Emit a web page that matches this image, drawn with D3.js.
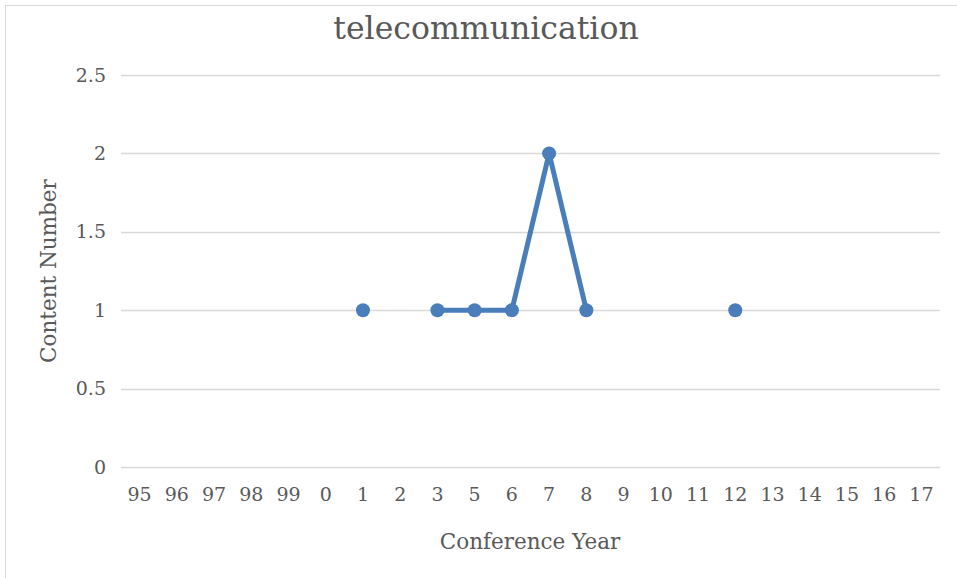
<!DOCTYPE html>
<html lang="en">
<head>
<meta charset="UTF-8">
<title>telecommunication</title>
<script src="https://cdn.jsdelivr.net/npm/d3@7"></script>
<style>
    body { margin: 0; background: #fff; }
    text { font-family: "DejaVu Serif", serif; fill: #595959; }
</style>
</head>
<body>
<div id="fig"></div>
<script>
// conference years as printed on the axis (no 4)
const years = ["95", "96", "97", "98", "99", "0", "1", "2", "3", "5", "6", "7", "8", "9", "10", "11", "12", "13", "14", "15", "16", "17"]
// content number per year, null where nothing is plotted
const counts = [null, null, null, null, null, null, 1, null, 1, 1, 1, 2, 1, null, null, null, 1, null, null, null, null, null]
const yTicks = [0, 0.5, 1, 1.5, 2, 2.5]

const W = 957, H = 578
const plot = {left: 121, right: 940, top: 75, bottom: 467}

const svg = d3.select("#fig").append("svg")
    .attr("width", W).attr("height", H)

// chart frame (right / bottom edges fall outside the picture)
svg.append("rect")
    .attr("x", 5.5).attr("y", 5.5)
    .attr("width", W).attr("height", H)
    .attr("fill", "none").attr("stroke", "#d9d9d9")

const x = d3.scaleBand().domain(years).range([plot.left, plot.right])
const y = d3.scaleLinear().domain([0, 2.5]).range([plot.bottom, plot.top])

// gridlines
svg.append("g").selectAll("line")
    .data(yTicks)
    .join("line")
    .attr("x1", plot.left).attr("x2", plot.right)
    .attr("y1", d => Math.round(y(d)) + 0.5).attr("y2", d => Math.round(y(d)) + 0.5)
    .attr("stroke", "#d9d9d9").attr("stroke-width", 1.5)

// y axis labels
const yAxis = svg.append("g")
    .attr("transform", `translate(${plot.left},0)`)
    .call(d3.axisLeft(y).tickValues(yTicks).tickSize(0).tickPadding(15).tickFormat(d3.format("")))
yAxis.select(".domain").remove()
yAxis.selectAll("text").style("font-size", "19px").attr("fill", "#595959")

// x axis labels
const xAxis = svg.append("g")
    .attr("transform", `translate(0,${plot.bottom})`)
    .call(d3.axisBottom(x).tickSize(0).tickPadding(21))
xAxis.select(".domain").remove()
xAxis.selectAll("text").style("font-size", "19px").attr("fill", "#595959")

const pts = years.map((d, i) => ({year: d, value: counts[i]}))

const line = d3.line()
    .defined(d => d.value !== null)
    .x(d => x(d.year) + x.bandwidth() / 2)
    .y(d => y(d.value))

svg.append("path")
    .datum(pts)
    .attr("d", line)
    .attr("fill", "none")
    .attr("stroke", "#4a7ebb")
    .attr("stroke-width", 5)
    .attr("stroke-linejoin", "round")

svg.append("g").selectAll("circle")
    .data(pts.filter(d => d.value !== null))
    .join("circle")
    .attr("cx", d => x(d.year) + x.bandwidth() / 2)
    .attr("cy", d => y(d.value))
    .attr("r", 7)
    .attr("fill", "#4a7ebb")

// titles
svg.append("text")
    .attr("x", 486).attr("y", 39)
    .attr("text-anchor", "middle")
    .style("font-size", "31.5px")
    .text("telecommunication")

svg.append("text")
    .attr("x", 530).attr("y", 549)
    .attr("text-anchor", "middle")
    .style("font-size", "21.5px")
    .text("Conference Year")

svg.append("text")
    .attr("transform", "translate(56,271) rotate(-90)")
    .attr("text-anchor", "middle")
    .style("font-size", "21.5px")
    .text("Content Number")
</script>
</body>
</html>
